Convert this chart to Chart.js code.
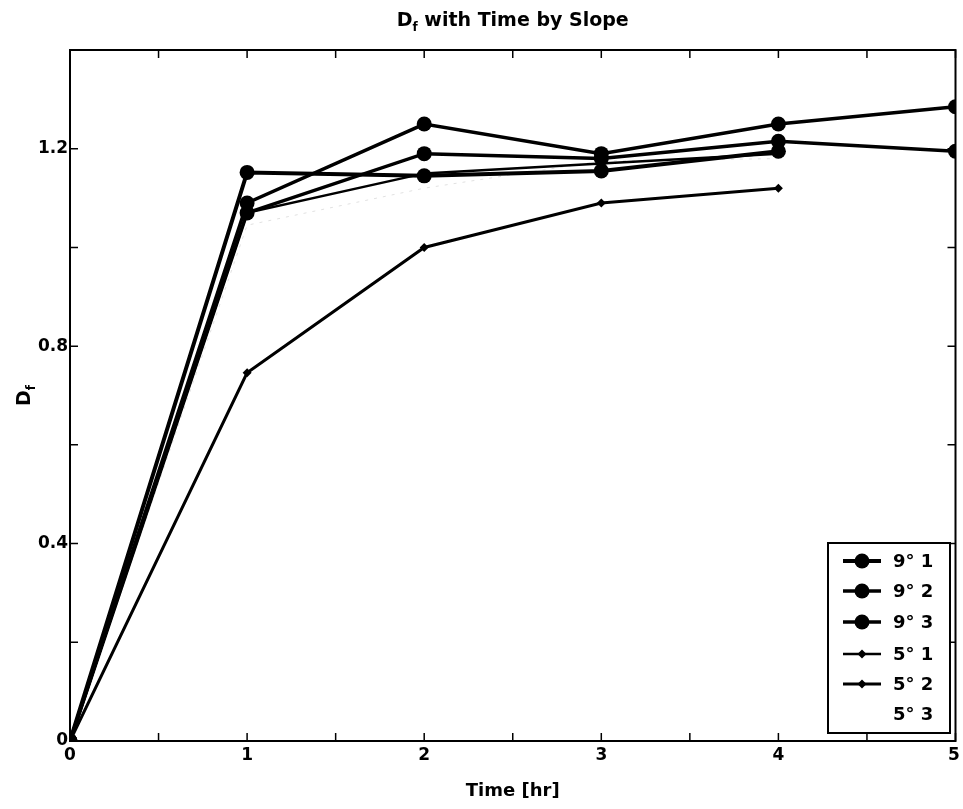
<!DOCTYPE html>
<html>
<head>
<meta charset="utf-8">
<script src="https://cdn.jsdelivr.net/npm/chart.js@4/dist/chart.umd.min.js"></script>
<style>
html,body{margin:0;padding:0;background:#fff;}
#wrap{width:963px;height:809px;}
</style>
</head>
<body>
<div id="wrap"><canvas id="c" width="963" height="809"></canvas></div>
<script>
const times = [0, 1, 2, 3, 4, 5];
const seriesNames = ['9° 1', '9° 2', '9° 3', '5° 1', '5° 2', '5° 3'];
const s9_1 = [0, 1.152, 1.145, 1.155, 1.195, null];
const s9_2 = [0, 1.09, 1.25, 1.19, 1.25, 1.285];
const s9_3 = [0, 1.07, 1.19, 1.18, 1.215, 1.195];
const s5_1 = [0, 1.07, 1.15, 1.17, 1.19, null];
const s5_2 = [0, 0.746, 1.0, 1.09, 1.12, null];
const s5_3 = [0, 1.045, 1.12, 1.175, 1.18, null];
const xTicks = [0, 0.5, 1, 1.5, 2, 2.5, 3, 3.5, 4, 4.5, 5];
const yTicks = [0, 0.2, 0.4, 0.6, 0.8, 1.0, 1.2, 1.4];
const xLabels = [0, 1, 2, 3, 4, 5];
const yLabels = [0, 0.4, 0.8, 1.2];

const values = [s9_1, s9_2, s9_3, s5_1, s5_2, s5_3];
const styles = [
  {bw: 4, ps: 'circle', r: 7.5},
  {bw: 3.5, ps: 'circle', r: 7.5},
  {bw: 3.5, ps: 'circle', r: 7.5},
  {bw: 2.5, ps: 'rectRot', r: 4.5},
  {bw: 3, ps: 'rectRot', r: 4.5},
  {bw: 1, ps: false, r: 0, hidden: true}
];

const datasets = values.map((arr, i) => ({
  label: seriesNames[i],
  data: times.map((t, j) => ({x: t, y: arr[j]})).filter(p => p.y !== null),
  borderColor: styles[i].hidden ? 'rgba(0,0,0,0.12)' : '#000',
  backgroundColor: '#000',
  borderWidth: styles[i].bw,
  pointStyle: styles[i].ps,
  pointRadius: styles[i].r,
  pointBorderWidth: 0,
  borderDash: styles[i].hidden ? [3, 6] : [],
  tension: 0,
  fill: false
}));

const FONT = '"DejaVu Sans", Arial, sans-serif';

const decor = {
  id: 'decor',
  afterDraw(chart) {
    const ctx = chart.ctx;
    const a = chart.chartArea;
    const xs = chart.scales.x, ys = chart.scales.y;
    ctx.save();
    // frame
    ctx.strokeStyle = '#000';
    ctx.lineWidth = 2;
    ctx.strokeRect(a.left, a.top, a.right - a.left, a.bottom - a.top);
    // ticks inward
    ctx.lineWidth = 1.5;
    xTicks.forEach(v => {
      const px = xs.getPixelForValue(v);
      ctx.beginPath();
      ctx.moveTo(px, a.bottom); ctx.lineTo(px, a.bottom - 8);
      ctx.moveTo(px, a.top); ctx.lineTo(px, a.top + 8);
      ctx.stroke();
    });
    yTicks.forEach(v => {
      const py = ys.getPixelForValue(v);
      ctx.beginPath();
      ctx.moveTo(a.left, py); ctx.lineTo(a.left + 8, py);
      ctx.moveTo(a.right, py); ctx.lineTo(a.right - 8, py);
      ctx.stroke();
    });
    // tick labels
    ctx.fillStyle = '#000';
    ctx.font = 'bold 17px ' + FONT;
    ctx.textAlign = 'center'; ctx.textBaseline = 'top';
    xLabels.forEach(v => {
      ctx.fillText(String(v), Math.min(xs.getPixelForValue(v), 954), a.bottom + 6);
    });
    ctx.textAlign = 'right'; ctx.textBaseline = 'middle';
    yLabels.forEach(v => {
      ctx.fillText(v === 0 ? '0' : v.toFixed(1), a.left - 2, ys.getPixelForValue(v));
    });
    // title
    const cx = (a.left + a.right) / 2;
    ctx.textBaseline = 'alphabetic';
    const t1 = 'D', t2 = 'f', t3 = ' with Time by Slope';
    ctx.font = 'bold 19px ' + FONT;
    const w1 = ctx.measureText(t1).width;
    const w3 = ctx.measureText(t3).width;
    ctx.font = 'bold 12px ' + FONT;
    const w2 = ctx.measureText(t2).width;
    let sx = cx - (w1 + w2 + w3) / 2;
    ctx.textAlign = 'left';
    ctx.font = 'bold 19px ' + FONT;
    ctx.fillText(t1, sx, 26);
    ctx.font = 'bold 12px ' + FONT;
    ctx.fillText(t2, sx + w1, 31);
    ctx.font = 'bold 19px ' + FONT;
    ctx.fillText(t3, sx + w1 + w2, 26);
    // x axis title
    ctx.textAlign = 'center';
    ctx.font = 'bold 18px ' + FONT;
    ctx.fillText('Time [hr]', cx, 796);
    // y axis title
    ctx.save();
    ctx.translate(30, (a.top + a.bottom) / 2);
    ctx.rotate(-Math.PI / 2);
    ctx.textAlign = 'left';
    ctx.font = 'bold 19px ' + FONT;
    const yw1 = ctx.measureText('D').width;
    ctx.font = 'bold 12px ' + FONT;
    const yw2 = ctx.measureText('f').width;
    const y0 = -(yw1 + yw2) / 2;
    ctx.font = 'bold 19px ' + FONT;
    ctx.fillText('D', y0, 0);
    ctx.font = 'bold 12px ' + FONT;
    ctx.fillText('f', y0 + yw1, 5);
    ctx.restore();
    // legend
    const lx = 828, ly = 543, lw = 122, lh = 190;
    ctx.fillStyle = '#fff';
    ctx.fillRect(lx, ly, lw, lh);
    ctx.strokeStyle = '#000';
    ctx.lineWidth = 2;
    ctx.strokeRect(lx, ly, lw, lh);
    const rowY = [561, 591, 622, 654, 684, 714];
    chart.data.datasets.forEach((ds, i) => {
      const yy = rowY[i];
      const st = styles[i];
      if (!st.hidden) {
        ctx.strokeStyle = '#000';
        ctx.lineWidth = st.bw;
        ctx.beginPath(); ctx.moveTo(843, yy); ctx.lineTo(881, yy); ctx.stroke();
        ctx.fillStyle = '#000';
        if (st.ps === 'circle') {
          ctx.beginPath(); ctx.arc(862, yy, st.r, 0, Math.PI * 2); ctx.fill();
        } else {
          ctx.beginPath();
          ctx.moveTo(862, yy - st.r); ctx.lineTo(862 + st.r, yy);
          ctx.lineTo(862, yy + st.r); ctx.lineTo(862 - st.r, yy); ctx.closePath(); ctx.fill();
        }
      }
      ctx.fillStyle = '#000';
      ctx.font = 'bold 18px ' + FONT;
      ctx.textAlign = 'left'; ctx.textBaseline = 'middle';
      ctx.fillText(ds.label, 893, yy + 1);
    });
    ctx.restore();
  }
};

new Chart(document.getElementById('c'), {
  type: 'line',
  data: {datasets},
  options: {
    responsive: false,
    animation: false,
    layout: {padding: {top: 50, right: 5, left: 0, bottom: 0}},
    plugins: {legend: {display: false}, title: {display: false}, tooltip: {enabled: false}},
    scales: {
      x: {
        type: 'linear', min: 0, max: 5,
        ticks: {display: false, stepSize: 0.5},
        grid: {display: false},
        border: {display: false},
        afterFit(s) { s.height = 68; }
      },
      y: {
        type: 'linear', min: 0, max: 1.4,
        ticks: {display: false, stepSize: 0.2},
        grid: {display: false},
        border: {display: false},
        afterFit(s) { s.width = 70; }
      }
    }
  },
  plugins: [decor]
});
</script>
</body>
</html>
